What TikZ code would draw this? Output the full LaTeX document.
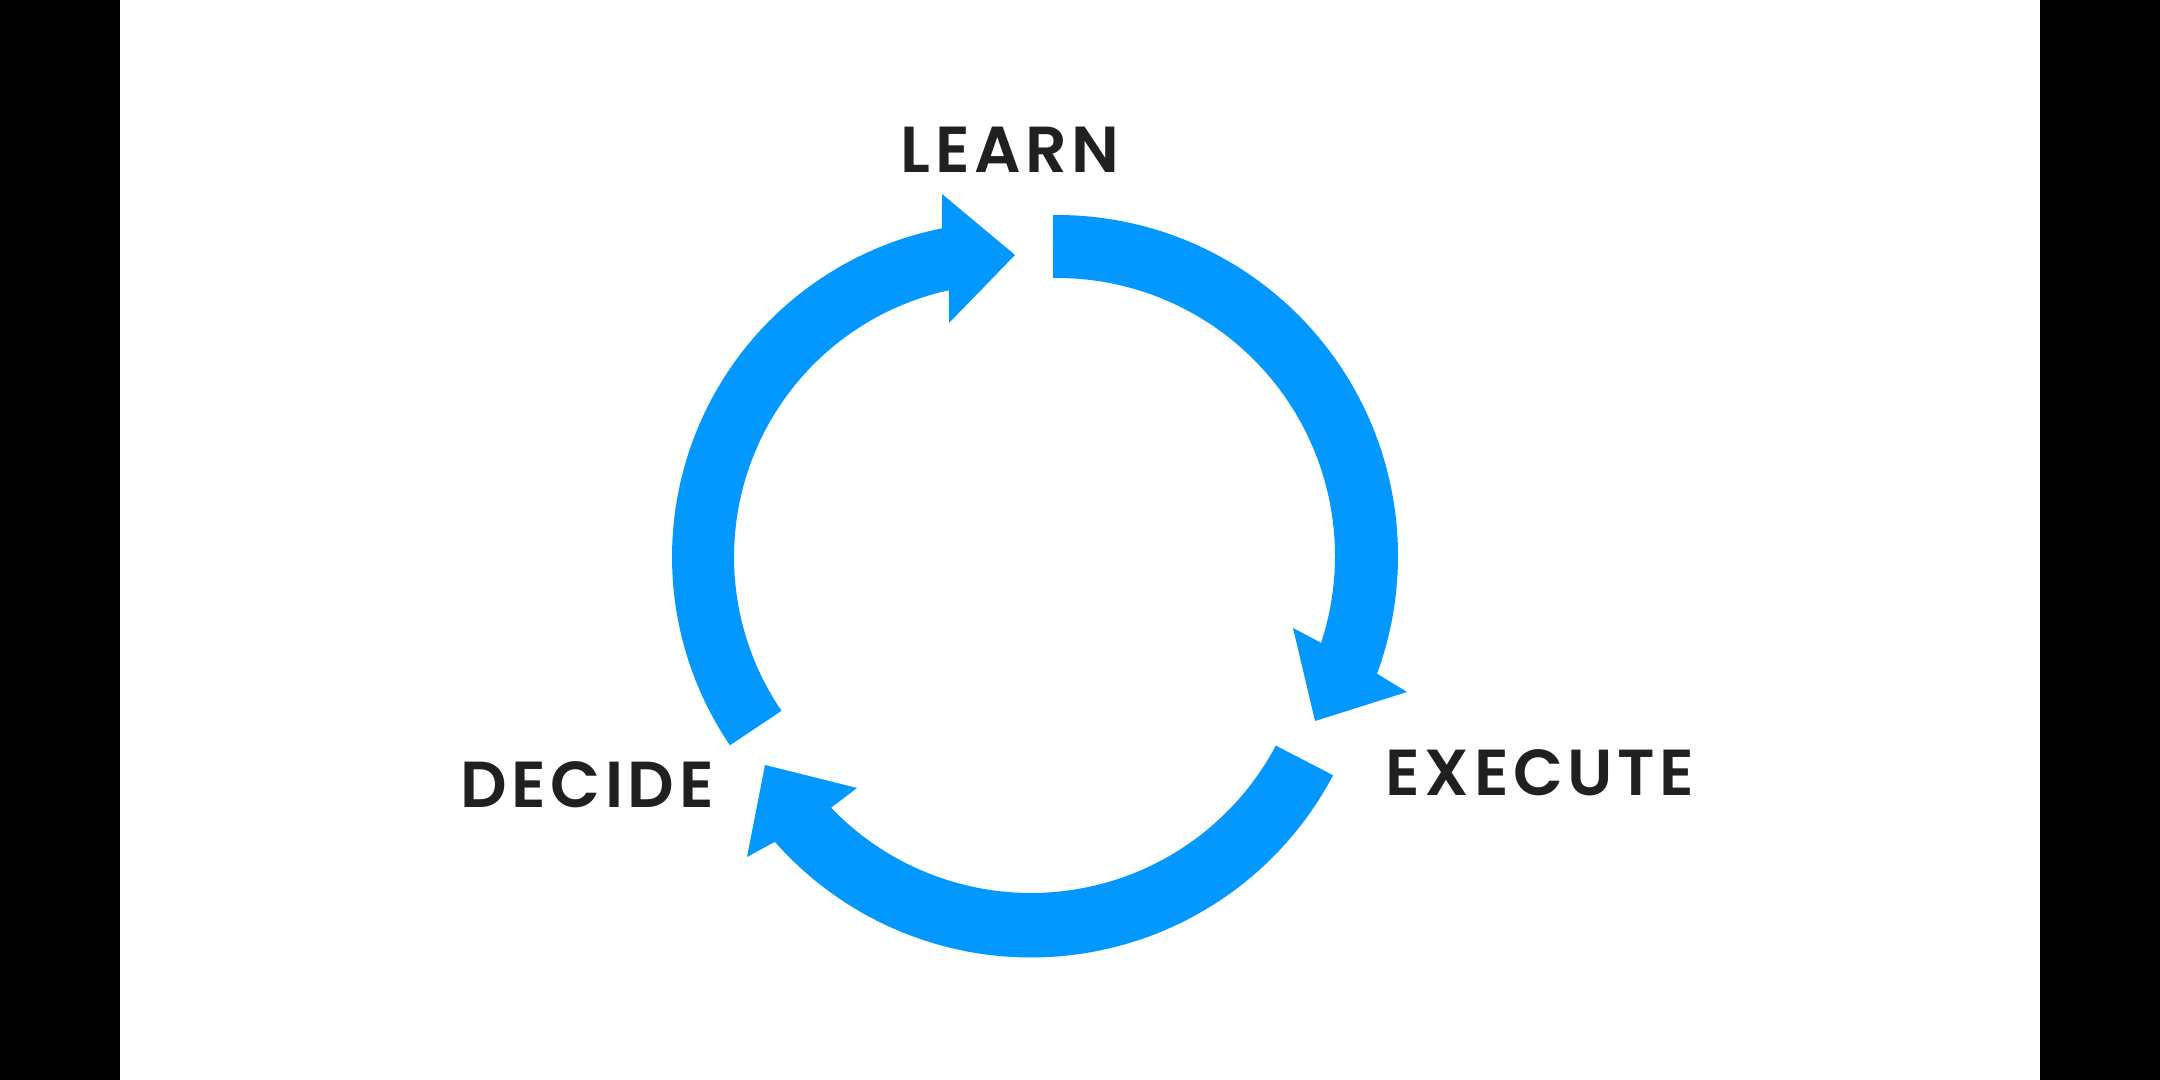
\documentclass[tikz,border=0pt]{standalone}
\usepackage{fontspec}
\usepackage{xcolor}
\usepackage{tikz}
\usetikzlibrary{
    calc,
    positioning
}
\newfontfamily\cyclefont{Poppins SemiBold}[LetterSpace=7]
\definecolor{cycleblue}{RGB}{2,152,255}
\definecolor{labelgray}{RGB}{32,32,32}
\tikzstyle{label} = [
    inner sep=0pt,
    text=labelgray,
    font=\cyclefont\fontsize{18.5}{18.5}\selectfont
]
\tikzstyle{ring} = [
    fill=cycleblue
]

\begin{document}
\begin{tikzpicture}[
    x=1cm, y=1cm
]

% Hintergrund
\fill[black] (0,0) rectangle (21.6,10.8);
\fill[white] (1.2,0) rectangle (20.4,10.8);
\useasboundingbox (0,0) rectangle (21.6,10.8);

% Mittelpunkte der drei Bögen
\coordinate (mlearn) at (10.07,5.23);
\coordinate (mexecute) at (10.57,5.24);
\coordinate (mdecide) at (10.31,4.64);

% Beschriftungen
\node[label] (learn) at (10.10,9.30) {LEARN};
\node[label] (execute) at (15.40,3.07) {EXECUTE};
\node[label] (decide) at (5.87,2.95) {DECIDE};

% Pfeil nach LEARN
\fill[ring] ($(mlearn)+(214.2:3.35)$)
    arc[start angle=214.2, end angle=101.2, radius=3.35]
    -- (9.42,8.86) -- (10.15,8.25) -- (9.49,7.57)
    -- ($(mlearn)+(102.3:2.73)$)
    arc[start angle=102.3, end angle=214.3, radius=2.73]
    -- cycle;

% Pfeil nach EXECUTE
\fill[ring] ($(mexecute)+(90.7:3.41)$)
    arc[start angle=90.7, end angle=-20.2, radius=3.41]
    -- (14.07,3.88) -- (13.15,3.59) -- (12.93,4.52)
    -- ($(mexecute)+(-18.2:2.78)$)
    arc[start angle=-18.2, end angle=90.8, radius=2.78]
    -- cycle;

% Pfeil nach DECIDE
\fill[ring] ($(mdecide)+(-27.8:3.415)$)
    arc[start angle=-27.8, end angle=-138.6, radius=3.415]
    -- (7.47,2.23) -- (7.65,3.15) -- (8.57,2.92)
    -- ($(mdecide)+(-136.2:2.77)$)
    arc[start angle=-136.2, end angle=-27.9, radius=2.77]
    -- cycle;

\end{tikzpicture}
\end{document}
